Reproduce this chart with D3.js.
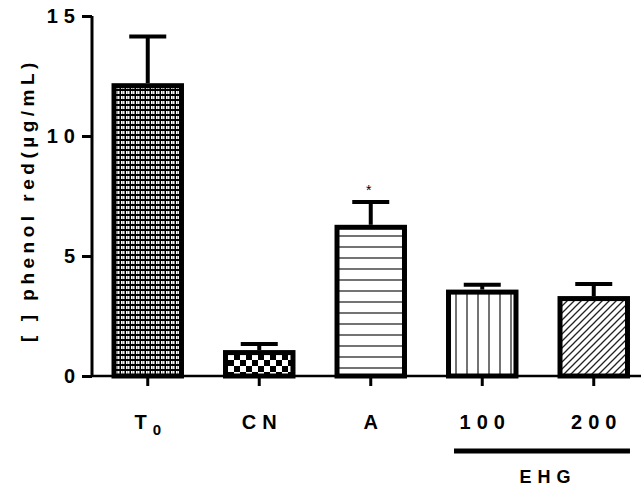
<!DOCTYPE html>
<html>
<head>
<meta charset="utf-8">
<script src="https://cdn.jsdelivr.net/npm/d3@7"></script>
<style>
  html, body { margin: 0; padding: 0; background: #fff; }
  svg { display: block; font-family: "Liberation Sans", Arial, sans-serif; }
</style>
</head>
<body>
<svg id="chart" width="641" height="487"></svg>
<script>
// data
const groups = ["T0", "CN", "A", "100", "200"];
const means  = [12.2, 1.08, 6.3, 3.6, 3.33];
const errs   = [1.95, 0.25, 0.95, 0.2, 0.5];
const patterns = ["fineCheck", "bigCheck", "hLines", "vLines", "diag"];
const yTicks = [0, 5, 10, 15];

const svg = d3.select("#chart");
const defs = svg.append("defs");

// fill patterns
const p1 = defs.append("pattern").attr("id", "fineCheck")
  .attr("patternUnits", "userSpaceOnUse").attr("width", 5).attr("height", 5);
p1.append("rect").attr("width", 5).attr("height", 5).attr("fill", "#000");
p1.append("rect").attr("x", 1).attr("y", 1).attr("width", 3.5).attr("height", 3).attr("fill", "#fff");
p1.append("rect").attr("x", 2.3).attr("y", 1).attr("width", 0.8).attr("height", 3).attr("fill", "#888");

const p2 = defs.append("pattern").attr("id", "bigCheck")
  .attr("patternUnits", "userSpaceOnUse").attr("width", 12).attr("height", 12);
p2.append("rect").attr("width", 12).attr("height", 12).attr("fill", "#fff");
p2.append("rect").attr("width", 6).attr("height", 6).attr("fill", "#000");
p2.append("rect").attr("x", 6).attr("y", 6).attr("width", 6).attr("height", 6).attr("fill", "#000");

const p3 = defs.append("pattern").attr("id", "hLines")
  .attr("patternUnits", "userSpaceOnUse").attr("width", 11).attr("height", 11);
p3.append("rect").attr("width", 11).attr("height", 11).attr("fill", "#fff");
p3.append("line").attr("x1", 0).attr("x2", 11).attr("y1", 5).attr("y2", 5)
  .attr("stroke", "#444").attr("stroke-width", 1.5);

const p4 = defs.append("pattern").attr("id", "vLines")
  .attr("patternUnits", "userSpaceOnUse").attr("width", 11).attr("height", 11);
p4.append("rect").attr("width", 11).attr("height", 11).attr("fill", "#fff");
p4.append("line").attr("y1", 0).attr("y2", 11).attr("x1", 5).attr("x2", 5)
  .attr("stroke", "#444").attr("stroke-width", 1.5);

const p5 = defs.append("pattern").attr("id", "diag")
  .attr("patternUnits", "userSpaceOnUse").attr("width", 7).attr("height", 7);
p5.append("rect").attr("width", 7).attr("height", 7).attr("fill", "#fff");
p5.append("path").attr("d", "M-1,1 l2,-2 M0,7 l7,-7 M6,8 l2,-2")
  .attr("stroke", "#222").attr("stroke-width", 1.3);

const x = d3.scaleBand().domain(groups).range([92, 649.5])
  .paddingInner(0.35).paddingOuter(0.175);
const y = d3.scaleLinear().domain([0, 15]).range([376, 16]);

// bars
const bw = x.bandwidth();
svg.append("g").selectAll("rect")
  .data(groups)
  .join("rect")
  .attr("x", d => x(d) + 2.5)
  .attr("width", bw - 5)
  .attr("y", (d, i) => y(means[i]) + 2.5)
  .attr("height", (d, i) => y(0) - y(means[i]) - 2.5)
  .attr("fill", (d, i) => `url(#${patterns[i]})`)
  .attr("stroke", "#000")
  .attr("stroke-width", 5);

// error bars
const eb = svg.append("g").attr("stroke", "#000").attr("stroke-width", 4);
groups.forEach((g, i) => {
  const cx = x(g) + bw / 2;
  eb.append("line").attr("x1", cx).attr("x2", cx)
    .attr("y1", y(means[i])).attr("y2", y(means[i] + errs[i]));
  eb.append("line").attr("x1", cx - 18.5).attr("x2", cx + 18.5)
    .attr("y1", y(means[i] + errs[i])).attr("y2", y(means[i] + errs[i]));
});

// significance mark
svg.append("text").attr("x", x("A") + bw / 2 - 2).attr("y", y(means[2] + errs[2]) - 7)
  .attr("text-anchor", "middle").attr("font-size", 14).text("*");

// y axis
const yAxis = svg.append("g").attr("transform", "translate(92,0)")
  .call(d3.axisLeft(y).tickValues(yTicks).tickSize(10).tickPadding(1));
yAxis.select(".domain").attr("stroke-width", 3).attr("d", "M0,376V16");
yAxis.selectAll(".tick line").attr("stroke-width", 3);
yAxis.selectAll(".tick text").attr("font-size", 20).attr("font-weight", "bold")
  .attr("letter-spacing", 6)
  .attr("font-family", "Liberation Sans, Arial, sans-serif").attr("fill", "#000");

// x axis
const xAxis = svg.append("g").attr("transform", "translate(0,376)")
  .call(d3.axisBottom(x).tickSize(10).tickFormat(""));
xAxis.select(".domain").attr("stroke-width", 2.5).attr("d", "M91,0H641");
xAxis.selectAll(".tick line").attr("stroke-width", 3);

// x labels
const xl = svg.append("g").attr("font-size", 20).attr("font-weight", "bold")
  .attr("text-anchor", "middle");
groups.forEach(g => {
  const t = xl.append("text").attr("x", x(g) + bw / 2 + 3).attr("y", 429)
    .attr("letter-spacing", 6);
  if (g === "T0") {
    t.append("tspan").text("T");
    t.append("tspan").attr("dy", 6).attr("font-size", 15).text("0");
  } else {
    t.text(g);
  }
});

// EHG group bracket
svg.append("line").attr("x1", x("100") + 8).attr("x2", x("200") + bw)
  .attr("y1", 451).attr("y2", 451).attr("stroke", "#000").attr("stroke-width", 5);
svg.append("text").attr("x", (x("100") + x("200") + bw) / 2 + 10).attr("y", 483)
  .attr("text-anchor", "middle").attr("font-size", 18).attr("font-weight", "bold")
  .attr("letter-spacing", 6).text("EHG");

// y title
svg.append("text").attr("transform", "translate(34,200) rotate(-90)")
  .attr("text-anchor", "middle").attr("font-size", 19).attr("font-weight", "bold")
  .attr("letter-spacing", 4.5).text("[ ] phenol red(µg/mL)");
</script>
</body>
</html>
